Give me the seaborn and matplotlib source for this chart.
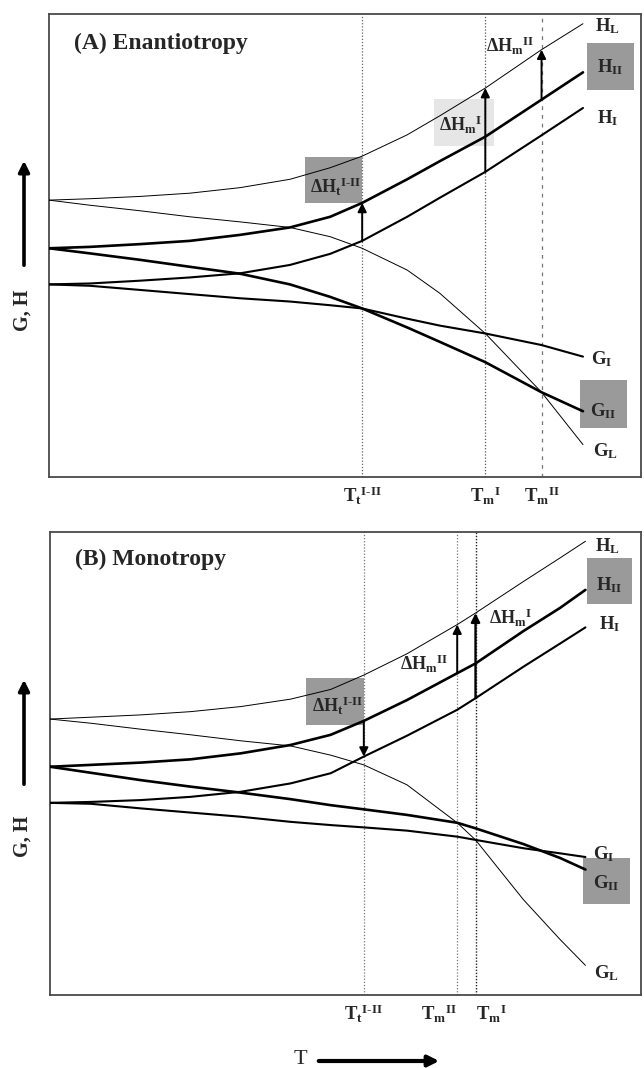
import matplotlib
matplotlib.use('Agg')
import matplotlib.pyplot as plt
import seaborn as sns
import pandas as pd
from matplotlib.patches import Rectangle, FancyArrowPatch

sns.set_theme(style='white')
plt.rcParams['font.family'] = ['Liberation Serif', 'DejaVu Serif']
plt.rcParams['mathtext.fontset'] = 'custom'
plt.rcParams['mathtext.rm'] = 'Liberation Serif:bold'
plt.rcParams['mathtext.bf'] = 'Liberation Serif:bold'
plt.rcParams['mathtext.it'] = 'Liberation Serif:bold'
plt.rcParams['mathtext.default'] = 'bf'

# ---------------- Panel A (Enantiotropy) ----------------
T_A = [0, 6.9, 15.4, 23.8, 32.3, 40.7, 47.5, 52.9, 60.5, 66.0, 73.7, 83.2, 90.2]
HL_A = [59.8, 60.1, 60.6, 61.3, 62.5, 64.3, 66.8, 69.3, 73.9, 78.0, 84.0, 92.3, 97.9]
HII_A = [49.4, 49.7, 50.3, 51.0, 52.3, 53.9, 56.2, 59.2, 64.3, 68.2, 73.5, 81.5, 87.4]
HI_A = [41.6, 41.8, 42.4, 43.1, 44.0, 45.8, 48.2, 51.0, 56.2, 60.3, 65.9, 73.8, 79.7]
GL_A = [59.8, 58.7, 57.5, 56.2, 55.1, 53.9, 51.9, 49.4, 44.7, 39.7, 31.0, 18.3, 7.0]
GII_A = [49.4, 48.3, 46.9, 45.4, 43.9, 41.6, 38.9, 36.4, 32.3, 29.2, 24.8, 18.3, 14.2]
GI_A = [41.6, 41.3, 40.4, 39.5, 38.6, 37.9, 37.1, 36.4, 34.2, 32.7, 31.0, 28.5, 26.0]
TMARK_A = [52.9, 73.7, 83.2]
TLAB_A = [r'T$_{t}{}^{I\text{-}II}$', r'T$_{m}{}^{I}$', r'T$_{m}{}^{II}$']

# ---------------- Panel B (Monotropy) ----------------
T_B = [0, 6.9, 15.4, 23.8, 32.3, 40.7, 47.5, 53.1, 60.4, 68.9, 72.0, 80.1, 86.3, 90.6]
HL_B = [59.6, 60.0, 60.5, 61.2, 62.3, 63.9, 66.0, 69.1, 73.7, 80.0, 82.5, 89.3, 94.4, 98.0]
HII_B = [49.3, 49.7, 50.2, 50.9, 52.2, 54.0, 56.2, 59.2, 63.7, 69.5, 71.6, 78.6, 83.6, 87.5]
HI_B = [41.5, 41.7, 42.1, 42.8, 43.9, 45.7, 47.9, 51.5, 56.0, 61.6, 64.1, 70.9, 75.9, 79.4]
GL_B = [59.6, 58.7, 57.4, 56.2, 54.9, 53.8, 51.8, 49.7, 45.4, 37.2, 33.5, 20.6, 12.0, 6.4]
GII_B = [49.3, 48.0, 46.4, 45.0, 43.7, 42.3, 41.0, 40.1, 38.9, 37.2, 36.0, 32.6, 29.6, 27.1]
GI_B = [41.5, 41.3, 40.3, 39.4, 38.5, 37.4, 36.7, 36.2, 35.5, 34.2, 33.5, 31.7, 30.6, 29.8]
TMARK_B = [53.1, 68.9, 72.0]
TLAB_B = [r'T$_{t}{}^{I\text{-}II}$', r'T$_{m}{}^{II}$', r'T$_{m}{}^{I}$']

W, H = 644, 1068
fig = plt.figure(figsize=(W / 100, H / 100), dpi=100)
fig.patch.set_facecolor('white')


def fx(px):
    return px / W


def fy(py):
    return 1 - py / H


axA = fig.add_axes([fx(49), fy(477), (641 - 49) / W, (477 - 14) / H])
axB = fig.add_axes([fx(50), fy(995), (641 - 50) / W, (995 - 532) / H])

LW = {'L': 0.7, 'II': 1.9, 'I': 1.5}


def draw_curves(ax, T, curves):
    for key, vals in curves:
        df = pd.DataFrame({'T': T, 'E': vals})
        sns.lineplot(data=df, x='T', y='E', ax=ax, color='black',
                     lw=LW[key], sort=False, estimator=None, zorder=4)


def setup(ax, ticks, labels, aligns):
    ax.set_xlim(0, 100)
    ax.set_ylim(0, 100)
    ax.set_xlabel('')
    ax.set_ylabel('')
    ax.set_yticks([])
    ax.set_xticks(ticks)
    ax.set_xticklabels(labels, fontsize=13.5, fontweight='bold')
    for t, a in zip(ax.get_xticklabels(), aligns):
        t.set_ha(a)
    ax.tick_params(axis='x', length=0, pad=6)
    for s in ax.spines.values():
        s.set_visible(True)
        s.set_color('#4a4a4a')
        s.set_linewidth(1.3)


def box(ax, x0, x1, y0, y1, color):
    ax.add_patch(Rectangle((x0, y0), x1 - x0, y1 - y0, facecolor=color,
                           edgecolor='none', zorder=1))


def arrow(ax, x, y0, y1, lw=1.4):
    ax.annotate('', xy=(x, y1), xytext=(x, y0),
                arrowprops=dict(arrowstyle='-|>', color='black', lw=lw,
                                mutation_scale=13, shrinkA=0, shrinkB=0),
                zorder=5)


def lab(ax, x, y, s, size=13.5):
    ax.text(x, y, s, fontsize=size, fontweight='bold', ha='center',
            va='center', zorder=6)


# ----- Panel A -----
ax = axA
box(ax, 90.9, 98.8, 83.6, 93.7, '#9a9a9a')
box(ax, 89.7, 97.7, 10.6, 20.9, '#9a9a9a')
box(ax, 43.2, 52.9, 59.2, 69.2, '#9a9a9a')
box(ax, 65.1, 75.2, 71.5, 81.7, '#e6e6e6')
ax.axvline(TMARK_A[0], color='#666666', lw=0.9, ls=(0, (1, 1.5)), zorder=2)
ax.axvline(TMARK_A[1], color='#555555', lw=0.9, ls=(0, (1, 1.5)), zorder=2)
ax.axvline(TMARK_A[2], color='#777777', lw=0.9, ls=(0, (3, 4)), zorder=2)
draw_curves(ax, T_A, [('L', HL_A), ('II', HII_A), ('I', HI_A),
                      ('L', GL_A), ('II', GII_A), ('I', GI_A)])
i0, i1, i2 = (T_A.index(t) for t in TMARK_A)
arrow(ax, TMARK_A[0], HI_A[i0], HII_A[i0])
arrow(ax, TMARK_A[1], HI_A[i1], HL_A[i1])
arrow(ax, TMARK_A[2], HII_A[i2], HL_A[i2])
setup(ax, TMARK_A, TLAB_A, ['center', 'center', 'center'])
ax.text(4.2, 93.7, '(A) Enantiotropy', fontsize=17, fontweight='bold',
        ha='left', va='center')
lab(ax, 94.3, 97.4, r'H$_{L}$')
lab(ax, 94.8, 88.6, r'H$_{II}$')
lab(ax, 94.3, 77.5, r'H$_{I}$')
lab(ax, 93.3, 25.5, r'G$_{I}$')
lab(ax, 93.7, 14.2, r'G$_{II}$')
lab(ax, 94.0, 5.6, r'G$_{L}$')
lab(ax, 48.3, 62.6, r'ΔH$_{t}{}^{I\text{-}II}$', 13)
lab(ax, 69.6, 76.0, r'ΔH$_{m}{}^{I}$', 13)
lab(ax, 77.9, 93.0, r'ΔH$_{m}{}^{II}$', 13)

# ----- Panel B -----
ax = axB
box(ax, 90.8, 98.5, 84.4, 94.4, '#9a9a9a')
box(ax, 90.2, 98.1, 19.6, 29.6, '#9a9a9a')
box(ax, 43.4, 53.1, 58.3, 68.5, '#9a9a9a')
ax.axvline(TMARK_B[0], color='#777777', lw=0.9, ls=(0, (1, 1.5)), zorder=2)
ax.axvline(TMARK_B[1], color='#777777', lw=0.9, ls=(0, (1, 1.5)), zorder=2)
ax.axvline(TMARK_B[2], color='#222222', lw=1.0, ls=(0, (1, 1.2)), zorder=2)
draw_curves(ax, T_B, [('L', HL_B), ('II', HII_B), ('I', HI_B),
                      ('L', GL_B), ('II', GII_B), ('I', GI_B)])
j0, j1, j2 = (T_B.index(t) for t in TMARK_B)
arrow(ax, TMARK_B[0], HII_B[j0], HI_B[j0])
arrow(ax, TMARK_B[1], HII_B[j1], HL_B[j1])
arrow(ax, TMARK_B[2], HI_B[j2], HL_B[j2], lw=1.7)
setup(ax, TMARK_B, TLAB_B, ['center', 'right', 'left'])
ax.text(4.2, 94.0, '(B) Monotropy', fontsize=17, fontweight='bold',
        ha='left', va='center')
lab(ax, 94.4, 97.0, r'H$_{L}$')
lab(ax, 94.7, 88.6, r'H$_{II}$')
lab(ax, 94.7, 80.0, r'H$_{I}$')
lab(ax, 93.7, 30.4, r'G$_{I}$')
lab(ax, 94.2, 24.2, r'G$_{II}$')
lab(ax, 94.2, 4.8, r'G$_{L}$')
lab(ax, 48.6, 62.4, r'ΔH$_{t}{}^{I\text{-}II}$', 13)
lab(ax, 63.2, 71.5, r'ΔH$_{m}{}^{II}$', 13)
lab(ax, 78.0, 81.5, r'ΔH$_{m}{}^{I}$', 13)

# ----- outer axis labels with arrows -----
for (ya0, ya1, yt) in [(268, 158, 310), (787, 677, 836)]:
    fig.add_artist(FancyArrowPatch((fx(24), fy(ya0)), (fx(24), fy(ya1)),
                                   transform=fig.transFigure,
                                   arrowstyle='-|>', mutation_scale=16,
                                   lw=2.6, color='black'))
    fig.text(fx(23), fy(yt), 'G, H', rotation=90, fontsize=14.5,
             fontweight='bold', ha='center', va='center')

fig.text(fx(300), fy(1059), 'T', fontsize=16, ha='center', va='center')
fig.add_artist(FancyArrowPatch((fx(316), fy(1061)), (fx(442), fy(1061)),
                               transform=fig.transFigure,
                               arrowstyle='-|>', mutation_scale=16,
                               lw=3.0, color='black'))

fig.savefig('out.png', dpi=100, facecolor='white')
